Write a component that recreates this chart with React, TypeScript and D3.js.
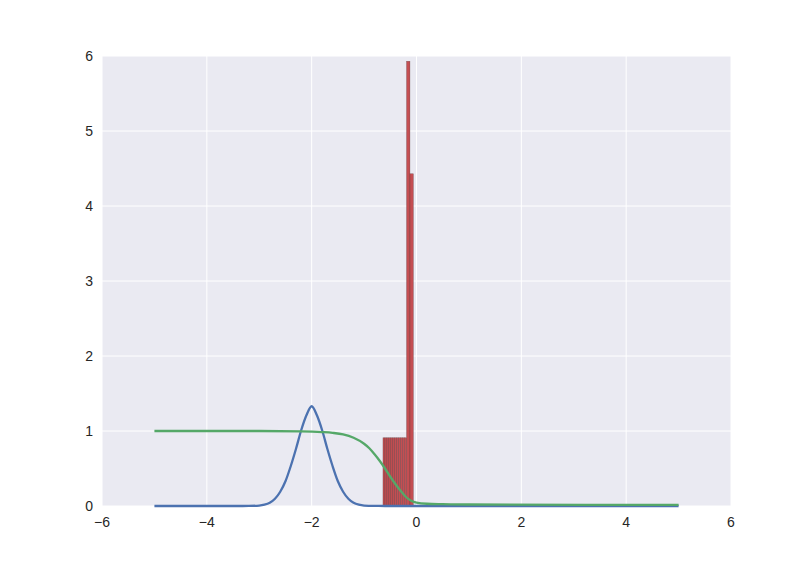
import React from "react";
import * as d3 from "d3";

const xTicks = [-6, -4, -2, 0, 2, 4, 6];
const yTicks = [0, 1, 2, 3, 4, 5, 6];

// histogram bins: edges and heights
const binEdges = [-0.64, -0.6025, -0.565, -0.5275, -0.49, -0.4525, -0.415, -0.3775, -0.34, -0.3025, -0.265, -0.2275, -0.19, -0.125, -0.06];
const binHeights = [0.91, 0.91, 0.91, 0.91, 0.91, 0.91, 0.91, 0.91, 0.91, 0.91, 0.91, 0.91, 5.93, 4.43];

const blueX = [-5, -3.4, -3.2, -3.0, -2.9, -2.8, -2.7, -2.6, -2.5, -2.4, -2.3, -2.2, -2.1, -2.0, -1.9, -1.8, -1.7, -1.6, -1.5, -1.4, -1.3, -1.2, -1.1, -1.0, -0.8, -0.6, 5];
const blueY = [0, 0, 0.001, 0.006, 0.018, 0.044, 0.097, 0.19, 0.33, 0.53, 0.76, 1.01, 1.21, 1.33, 1.21, 1.01, 0.76, 0.53, 0.33, 0.19, 0.097, 0.044, 0.018, 0.006, 0.001, 0, 0];

const greenX = [-5, -3, -2.2, -1.8, -1.6, -1.4, -1.2, -1.0, -0.9, -0.8, -0.7, -0.6, -0.5, -0.4, -0.3, -0.2, -0.1, 0, 0.2, 0.5, 1, 5];
const greenY = [1.0, 1.0, 0.995, 0.985, 0.975, 0.955, 0.91, 0.83, 0.77, 0.69, 0.6, 0.5, 0.39, 0.29, 0.2, 0.12, 0.07, 0.045, 0.03, 0.025, 0.02, 0.015];

const W = 812, H = 562;
const m = { left: 102, right: 731, top: 56, bottom: 506 };

export default function App() {
  const x = d3.scaleLinear().domain([-6, 6]).range([m.left, m.right]);
  const y = d3.scaleLinear().domain([0, 6]).range([m.bottom, m.top]);
  const line = d3.line<[number, number]>().x(d => x(d[0])).y(d => y(d[1])).curve(d3.curveMonotoneX);
  const blue = line(blueX.map((v, i) => [v, blueY[i]] as [number, number])) || "";
  const green = line(greenX.map((v, i) => [v, greenY[i]] as [number, number])) || "";
  const font = "'Liberation Sans', Arial, sans-serif";
  return (
    <svg width={W} height={H} style={{ position: "absolute", left: 0, top: 0, background: "#fff" }}>
      <rect x={m.left} y={m.top} width={m.right - m.left} height={m.bottom - m.top} fill="#EAEAF2" />
      {xTicks.map(t => (
        <line key={"gx" + t} x1={x(t)} x2={x(t)} y1={m.top} y2={m.bottom} stroke="#fff" strokeWidth={1} />
      ))}
      {yTicks.map(t => (
        <line key={"gy" + t} x1={m.left} x2={m.right} y1={y(t)} y2={y(t)} stroke="#fff" strokeWidth={1} />
      ))}
      {binHeights.map((h, i) => (
        <rect key={"b" + i} x={x(binEdges[i])} y={y(h)} width={x(binEdges[i + 1]) - x(binEdges[i])} height={y(0) - y(h)}
          fill="#C44E52" stroke="#4a2a2c" strokeOpacity={0.5} strokeWidth={0.5} />
      ))}
      <path d={blue} fill="none" stroke="#4C72B0" strokeWidth={2.3} />
      <path d={green} fill="none" stroke="#55A868" strokeWidth={2.3} />
      {xTicks.map(t => (
        <text key={"tx" + t} x={x(t)} y={m.bottom + 21} textAnchor="middle" fontFamily={font} fontSize={14} fill="#262626">
          {t < 0 ? "\u2212" + Math.abs(t) : String(t)}
        </text>
      ))}
      {yTicks.map(t => (
        <text key={"ty" + t} x={m.left - 9} y={y(t) + 5} textAnchor="end" fontFamily={font} fontSize={14} fill="#262626">
          {t}
        </text>
      ))}
    </svg>
  );
}
